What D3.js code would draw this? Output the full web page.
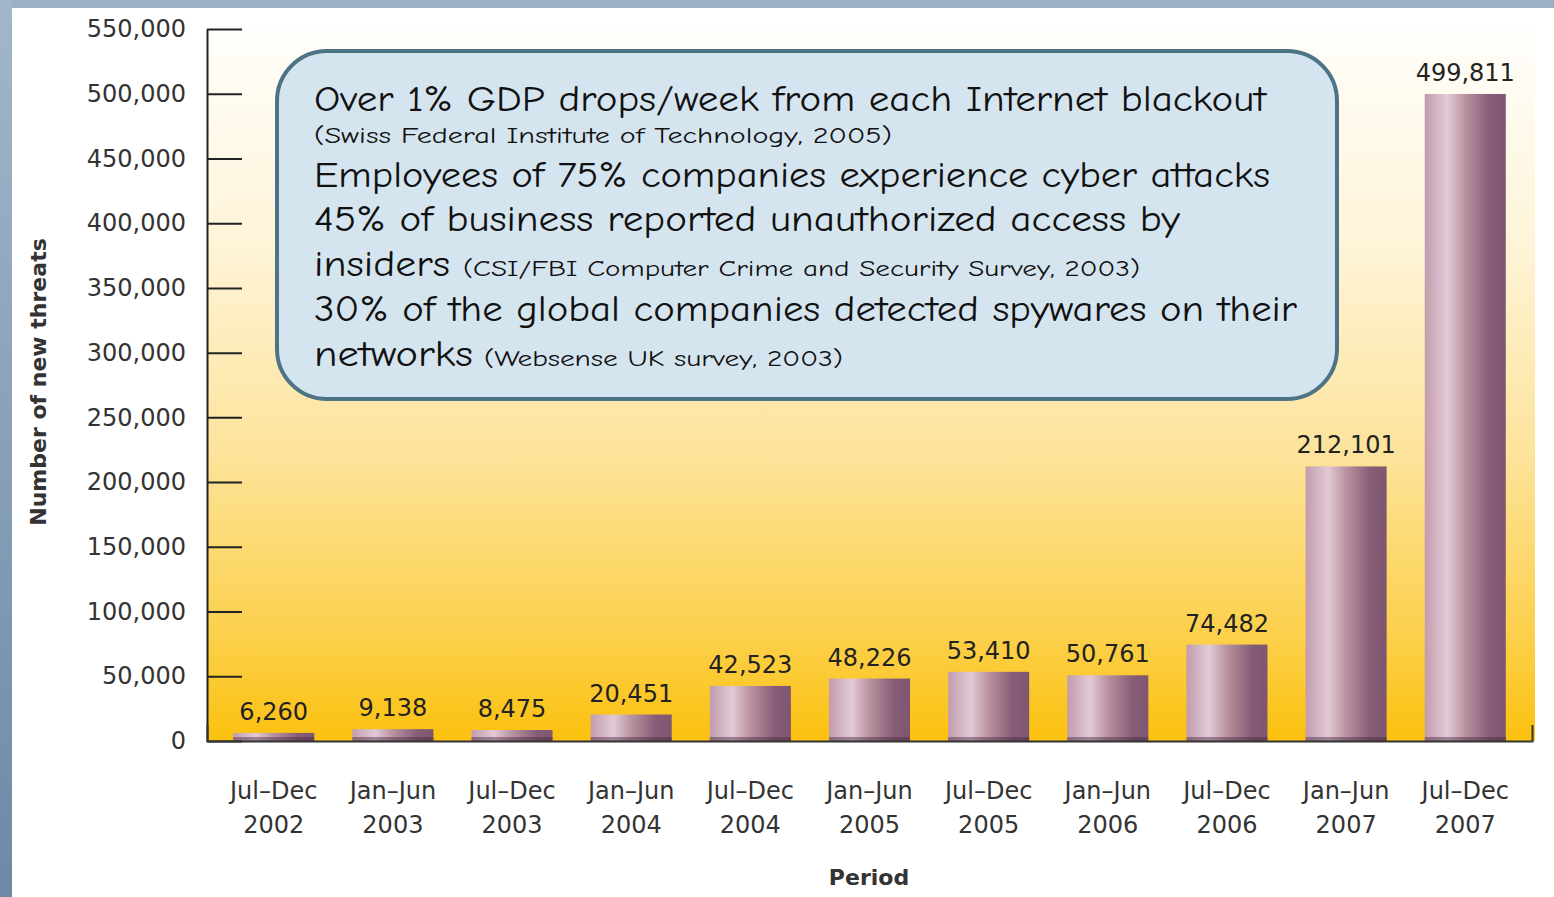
<!DOCTYPE html>
<html>
<head>
<meta charset="utf-8">
<script src="https://cdn.jsdelivr.net/npm/d3@7"></script>
<style>
  body { margin: 0; background: #fff; }
  svg { display: block; }
</style>
</head>
<body>
<div id="chart"></div>
<script>
// Data
const periods = ["Jul–Dec 2002", "Jan–Jun 2003", "Jul–Dec 2003", "Jan–Jun 2004", "Jul–Dec 2004",
    "Jan–Jun 2005", "Jul–Dec 2005", "Jan–Jun 2006", "Jul–Dec 2006", "Jan–Jun 2007", "Jul–Dec 2007"];
const threats = [6260, 9138, 8475, 20451, 42523, 48226, 53410, 50761, 74482, 212101, 499811];
const yTicks = [0, 50000, 100000, 150000, 200000, 250000, 300000, 350000, 400000, 450000, 500000, 550000];

// callout lines: [big text, small text]
const calloutLines = [
    ["Over 1% GDP drops/week from each Internet blackout", ""],
    ["", "(Swiss Federal Institute of Technology, 2005)"],
    ["Employees of 75% companies experience cyber attacks", ""],
    ["45% of business reported unauthorized access by", ""],
    ["insiders", "(CSI/FBI Computer Crime and Security Survey, 2003)"],
    ["30% of the global companies detected spywares on their", ""],
    ["networks", "(Websense UK survey, 2003)"]
];

const W = 1554, H = 897;
const plotL = 207, plotR = 1532, plotT = 29, plotB = 741;
const font = "'DejaVu Sans', Verdana, sans-serif";
const comic = "'Comic Sans MS', 'Comic Neue', 'DejaVu Sans', sans-serif";

const svg = d3.select("#chart").append("svg").attr("width", W).attr("height", H);
const defs = svg.append("defs");

// gradients
const bgGrad = defs.append("linearGradient").attr("id", "bg").attr("x1", 0).attr("x2", 0).attr("y1", 0).attr("y2", 1);
[[0, "#fffefb"], [0.3, "#fef4d8"], [0.6, "#fde39a"], [0.85, "#fcd04c"], [1, "#fbc10e"]]
    .forEach(s => bgGrad.append("stop").attr("offset", s[0]).attr("stop-color", s[1]));

const barGrad = defs.append("linearGradient").attr("id", "bar").attr("x1", 0).attr("x2", 1).attr("y1", 0).attr("y2", 0);
[[0, "#c29cae"], [0.28, "#e2cad6"], [0.5, "#b8929f"], [0.8, "#865d78"], [1, "#7e566f"]]
    .forEach(s => barGrad.append("stop").attr("offset", s[0]).attr("stop-color", s[1]));

const sideGrad = defs.append("linearGradient").attr("id", "side").attr("x1", 0).attr("x2", 0).attr("y1", 0).attr("y2", 1);
[[0, "#a3b6c9"], [1, "#6d89a8"]]
    .forEach(s => sideGrad.append("stop").attr("offset", s[0]).attr("stop-color", s[1]));

// frame strips
svg.append("rect").attr("x", 0).attr("y", 0).attr("width", W).attr("height", 8).attr("fill", "#9bb0c5");
svg.append("rect").attr("x", 0).attr("y", 0).attr("width", 12).attr("height", H).attr("fill", "url(#side)");

// scales
const x = d3.scaleBand().domain(periods).range([plotL, plotR]).paddingInner(0.32).paddingOuter(0.22);
const y = d3.scaleLinear().domain([0, 550000]).range([plotB, plotT]);

// plot background
svg.append("rect")
    .attr("x", plotL).attr("y", plotT)
    .attr("width", plotR - plotL + 3).attr("height", plotB - plotT)
    .attr("fill", "url(#bg)");

// bars
const bars = svg.selectAll("g.bar")
    .data(threats)
    .enter()
    .append("g")
    .classed("bar", true);

bars.append("rect")
    .attr("x", (d, i) => x(periods[i]))
    .attr("y", d => y(d))
    .attr("width", x.bandwidth())
    .attr("height", d => plotB - y(d))
    .attr("fill", "url(#bar)");

bars.append("rect")
    .attr("x", (d, i) => x(periods[i]))
    .attr("y", plotB - 4)
    .attr("width", x.bandwidth())
    .attr("height", 4)
    .attr("fill", "#4a2840")
    .attr("opacity", 0.45);

bars.append("text")
    .attr("x", (d, i) => x(periods[i]) + x.bandwidth() / 2)
    .attr("y", d => y(d) - 13)
    .attr("text-anchor", "middle")
    .style("font-family", font)
    .style("font-size", "24px")
    .attr("fill", "#222")
    .text(d => d3.format(",")(d));

// y axis
const yAxis = svg.append("g")
    .attr("transform", `translate(${plotL},0)`)
    .call(d3.axisLeft(y).tickValues(yTicks).tickSize(-35).tickSizeOuter(0).tickPadding(21).tickFormat(d3.format(",")));
yAxis.select(".domain").attr("stroke", "#222").attr("stroke-width", 2);
yAxis.selectAll(".tick line").attr("stroke", "#222").attr("stroke-width", 2);
yAxis.selectAll(".tick text")
    .style("font-family", font)
    .style("font-size", "24px")
    .attr("fill", "#333");

// x axis
const xAxis = svg.append("g")
    .attr("transform", `translate(0,${plotB})`)
    .call(d3.axisBottom(x).tickSize(0).tickSizeOuter(-16).tickPadding(0));
xAxis.select(".domain").attr("stroke", "#333").attr("stroke-width", 2);
xAxis.selectAll(".tick text").each(function (d) {
    const parts = d.split(" ");
    const t = d3.select(this).text(null).attr("y", 0).attr("dy", null)
        .style("font-family", font).style("font-size", "24px").attr("fill", "#333");
    t.append("tspan").attr("x", 0).attr("y", 58).text(parts[0]);
    t.append("tspan").attr("x", 0).attr("y", 92).text(parts[1]);
});

// axis titles
svg.append("text")
    .attr("transform", "translate(46,382) rotate(-90)")
    .attr("text-anchor", "middle")
    .style("font-family", font)
    .style("font-size", "22px")
    .style("font-weight", "bold")
    .attr("fill", "#333")
    .text("Number of new threats");

svg.append("text")
    .attr("x", 869)
    .attr("y", 885)
    .attr("text-anchor", "middle")
    .style("font-family", font)
    .style("font-size", "22px")
    .style("font-weight", "bold")
    .attr("fill", "#333")
    .text("Period");

// callout box
svg.append("rect")
    .attr("x", 277).attr("y", 51)
    .attr("width", 1060).attr("height", 348)
    .attr("rx", 50).attr("ry", 50)
    .attr("fill", "#d5e5ef")
    .attr("stroke", "#4e7387")
    .attr("stroke-width", 4);

const baselines = [111, 143, 187, 231, 276, 321, 366];
const bigWidths = [952, 0, 956, 866, 136, 983, 159];
const smallStart = [0, 314, 0, 0, 463, 0, 484];
const smallWidths = [0, 578, 0, 0, 677, 0, 359];

const callout = svg.append("g").classed("callout", true);
calloutLines.forEach((line, i) => {
    if (line[0]) {
        callout.append("text")
            .attr("x", 314).attr("y", baselines[i])
            .attr("textLength", bigWidths[i])
            .attr("lengthAdjust", "spacingAndGlyphs")
            .style("font-family", comic)
            .style("font-size", "36px")
            .attr("fill", "#111")
            .text(line[0]);
    }
    if (line[1]) {
        callout.append("text")
            .attr("x", smallStart[i]).attr("y", baselines[i])
            .attr("textLength", smallWidths[i])
            .attr("lengthAdjust", "spacingAndGlyphs")
            .style("font-family", comic)
            .style("font-size", "23px")
            .attr("fill", "#111")
            .text(line[1]);
    }
});
</script>
</body>
</html>
